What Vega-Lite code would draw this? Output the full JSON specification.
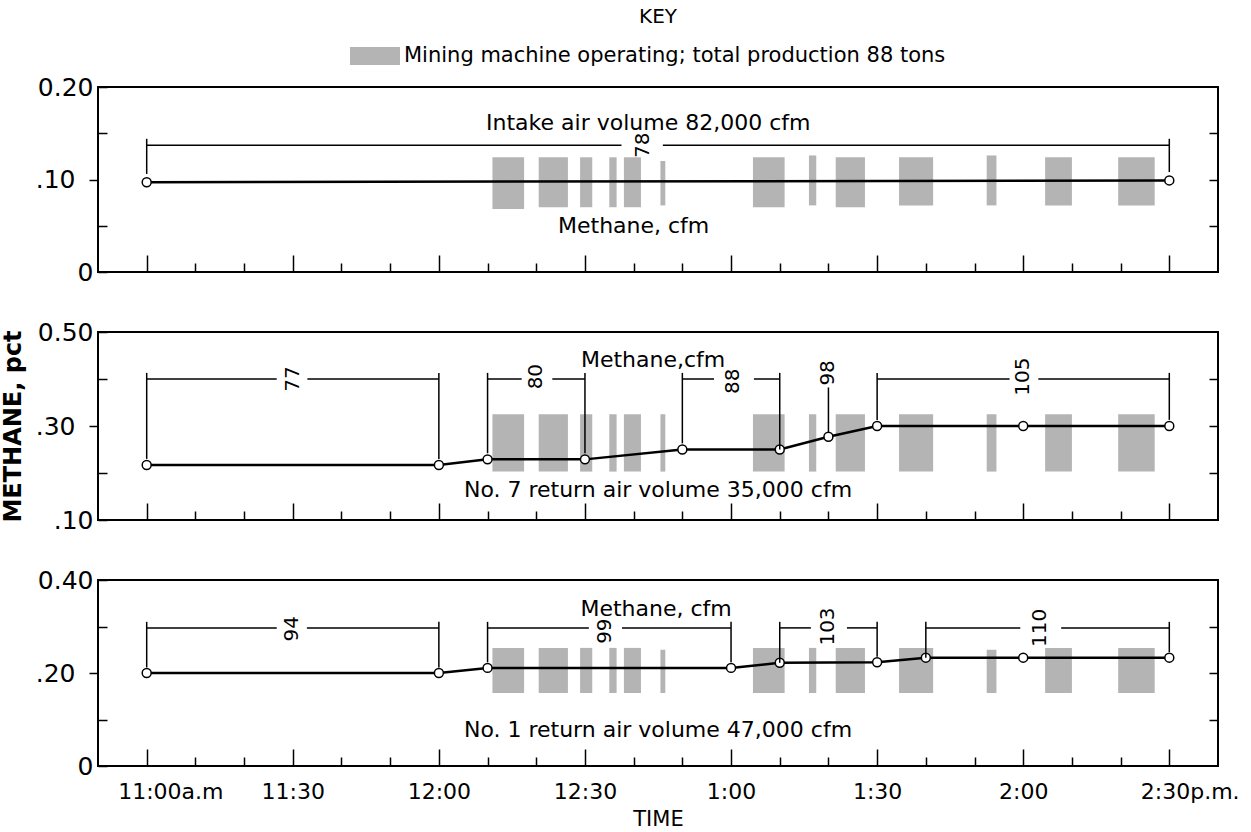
{
  "$schema": "https://vega.github.io/schema/vega-lite/v6.json",
  "background": "white",
  "padding": {"left": 0, "top": 6, "right": 10, "bottom": 0},
  "spacing": 33,
  "config": {
    "view": {"stroke": "black", "strokeWidth": 2},
    "axis": {"domain": false, "grid": false, "tickColor": "black", "tickWidth": 1.5, "labelColor": "black", "labelFont": "DejaVu Sans", "labelFontSize": 25, "titleFont": "DejaVu Sans", "titleColor": "black"},
    "text": {"font": "DejaVu Sans", "color": "black"}
  },
  "datasets": {
    "bars": [
      {"panel": 1, "x": 71, "x2": 77.5, "y": 0.068, "y2": 0.124},
      {"panel": 1, "x": 80.5, "x2": 86.5, "y": 0.07, "y2": 0.124},
      {"panel": 1, "x": 89, "x2": 91.5, "y": 0.07, "y2": 0.124},
      {"panel": 1, "x": 95, "x2": 96.5, "y": 0.07, "y2": 0.124},
      {"panel": 1, "x": 98, "x2": 101.5, "y": 0.07, "y2": 0.124},
      {"panel": 1, "x": 105.5, "x2": 106.5, "y": 0.072, "y2": 0.12},
      {"panel": 1, "x": 124.5, "x2": 131, "y": 0.07, "y2": 0.124},
      {"panel": 1, "x": 136, "x2": 137.5, "y": 0.072, "y2": 0.126},
      {"panel": 1, "x": 141.5, "x2": 147.5, "y": 0.07, "y2": 0.124},
      {"panel": 1, "x": 154.5, "x2": 161.5, "y": 0.072, "y2": 0.124},
      {"panel": 1, "x": 172.5, "x2": 174.5, "y": 0.072, "y2": 0.126},
      {"panel": 1, "x": 184.5, "x2": 190, "y": 0.072, "y2": 0.124},
      {"panel": 1, "x": 199.5, "x2": 207, "y": 0.072, "y2": 0.124},
      {"panel": 2, "x": 71, "x2": 77.5, "y": 0.203, "y2": 0.325},
      {"panel": 2, "x": 80.5, "x2": 86.5, "y": 0.203, "y2": 0.325},
      {"panel": 2, "x": 89, "x2": 91.5, "y": 0.203, "y2": 0.325},
      {"panel": 2, "x": 95, "x2": 96.5, "y": 0.203, "y2": 0.325},
      {"panel": 2, "x": 98, "x2": 101.5, "y": 0.203, "y2": 0.325},
      {"panel": 2, "x": 105.5, "x2": 106.5, "y": 0.203, "y2": 0.325},
      {"panel": 2, "x": 124.5, "x2": 131, "y": 0.203, "y2": 0.325},
      {"panel": 2, "x": 136, "x2": 137.5, "y": 0.203, "y2": 0.325},
      {"panel": 2, "x": 141.5, "x2": 147.5, "y": 0.203, "y2": 0.325},
      {"panel": 2, "x": 154.5, "x2": 161.5, "y": 0.203, "y2": 0.325},
      {"panel": 2, "x": 172.5, "x2": 174.5, "y": 0.203, "y2": 0.325},
      {"panel": 2, "x": 184.5, "x2": 190, "y": 0.203, "y2": 0.325},
      {"panel": 2, "x": 199.5, "x2": 207, "y": 0.203, "y2": 0.325},
      {"panel": 3, "x": 71, "x2": 77.5, "y": 0.157, "y2": 0.254},
      {"panel": 3, "x": 80.5, "x2": 86.5, "y": 0.157, "y2": 0.254},
      {"panel": 3, "x": 89, "x2": 91.5, "y": 0.157, "y2": 0.254},
      {"panel": 3, "x": 95, "x2": 96.5, "y": 0.157, "y2": 0.254},
      {"panel": 3, "x": 98, "x2": 101.5, "y": 0.157, "y2": 0.254},
      {"panel": 3, "x": 105.5, "x2": 106.5, "y": 0.157, "y2": 0.25},
      {"panel": 3, "x": 124.5, "x2": 131, "y": 0.157, "y2": 0.254},
      {"panel": 3, "x": 136, "x2": 137.5, "y": 0.157, "y2": 0.254},
      {"panel": 3, "x": 141.5, "x2": 147.5, "y": 0.157, "y2": 0.254},
      {"panel": 3, "x": 154.5, "x2": 161.5, "y": 0.157, "y2": 0.254},
      {"panel": 3, "x": 172.5, "x2": 174.5, "y": 0.157, "y2": 0.25},
      {"panel": 3, "x": 184.5, "x2": 190, "y": 0.157, "y2": 0.254},
      {"panel": 3, "x": 199.5, "x2": 207, "y": 0.157, "y2": 0.254}
    ],
    "lines": [
      {"panel": 1, "x": 0, "y": 0.097},
      {"panel": 1, "x": 210, "y": 0.099},
      {"panel": 2, "x": 0, "y": 0.217},
      {"panel": 2, "x": 60, "y": 0.217},
      {"panel": 2, "x": 70, "y": 0.229},
      {"panel": 2, "x": 90, "y": 0.229},
      {"panel": 2, "x": 110, "y": 0.25},
      {"panel": 2, "x": 130, "y": 0.25},
      {"panel": 2, "x": 140, "y": 0.277},
      {"panel": 2, "x": 150, "y": 0.30},
      {"panel": 2, "x": 180, "y": 0.30},
      {"panel": 2, "x": 210, "y": 0.30},
      {"panel": 3, "x": 0, "y": 0.20},
      {"panel": 3, "x": 60, "y": 0.20},
      {"panel": 3, "x": 70, "y": 0.211},
      {"panel": 3, "x": 120, "y": 0.211},
      {"panel": 3, "x": 130, "y": 0.222},
      {"panel": 3, "x": 150, "y": 0.223},
      {"panel": 3, "x": 160, "y": 0.233},
      {"panel": 3, "x": 180, "y": 0.233},
      {"panel": 3, "x": 210, "y": 0.233}
    ],
    "hsegs": [
      {"panel": 1, "x": 0, "x2": 97.5, "y": 0.137},
      {"panel": 1, "x": 106, "x2": 210, "y": 0.137},
      {"panel": 2, "x": 0, "x2": 26.7, "y": 0.40},
      {"panel": 2, "x": 33, "x2": 60, "y": 0.40},
      {"panel": 2, "x": 70, "x2": 77, "y": 0.40},
      {"panel": 2, "x": 83.3, "x2": 90, "y": 0.40},
      {"panel": 2, "x": 110, "x2": 116.5, "y": 0.40},
      {"panel": 2, "x": 124.7, "x2": 130, "y": 0.40},
      {"panel": 2, "x": 150, "x2": 177.2, "y": 0.40},
      {"panel": 2, "x": 183.1, "x2": 210, "y": 0.40},
      {"panel": 3, "x": 0, "x2": 26.7, "y": 0.297},
      {"panel": 3, "x": 32.9, "x2": 60, "y": 0.297},
      {"panel": 3, "x": 70, "x2": 90.8, "y": 0.297},
      {"panel": 3, "x": 97.6, "x2": 120, "y": 0.297},
      {"panel": 3, "x": 130, "x2": 136.4, "y": 0.297},
      {"panel": 3, "x": 143.8, "x2": 150, "y": 0.297},
      {"panel": 3, "x": 160, "x2": 179.4, "y": 0.297},
      {"panel": 3, "x": 187.8, "x2": 210, "y": 0.297}
    ],
    "vsegs": [
      {"panel": 1, "x": 0, "y": 0.144, "y2": 0.106},
      {"panel": 1, "x": 210, "y": 0.144, "y2": 0.108},
      {"panel": 2, "x": 0, "y": 0.413, "y2": 0.23},
      {"panel": 2, "x": 60, "y": 0.413, "y2": 0.23},
      {"panel": 2, "x": 70, "y": 0.413, "y2": 0.242},
      {"panel": 2, "x": 90, "y": 0.413, "y2": 0.242},
      {"panel": 2, "x": 110, "y": 0.413, "y2": 0.263},
      {"panel": 2, "x": 130, "y": 0.413, "y2": 0.25},
      {"panel": 2, "x": 140, "y": 0.382, "y2": 0.287},
      {"panel": 2, "x": 150, "y": 0.413, "y2": 0.313},
      {"panel": 2, "x": 210, "y": 0.413, "y2": 0.313},
      {"panel": 3, "x": 0, "y": 0.31, "y2": 0.212},
      {"panel": 3, "x": 60, "y": 0.31, "y2": 0.212},
      {"panel": 3, "x": 70, "y": 0.31, "y2": 0.223},
      {"panel": 3, "x": 120, "y": 0.31, "y2": 0.223},
      {"panel": 3, "x": 130, "y": 0.31, "y2": 0.222},
      {"panel": 3, "x": 150, "y": 0.31, "y2": 0.235},
      {"panel": 3, "x": 160, "y": 0.31, "y2": 0.233},
      {"panel": 3, "x": 210, "y": 0.31, "y2": 0.245}
    ],
    "blabels": [
      {"panel": 1, "x": 102, "y": 0.137, "label": "78"},
      {"panel": 2, "x": 30, "y": 0.40, "label": "77"},
      {"panel": 2, "x": 80, "y": 0.405, "label": "80"},
      {"panel": 2, "x": 120.5, "y": 0.395, "label": "88"},
      {"panel": 2, "x": 140, "y": 0.413, "label": "98"},
      {"panel": 2, "x": 180, "y": 0.405, "label": "105"},
      {"panel": 3, "x": 29.8, "y": 0.295, "label": "94"},
      {"panel": 3, "x": 94.2, "y": 0.29, "label": "99"},
      {"panel": 3, "x": 140, "y": 0.30, "label": "103"},
      {"panel": 3, "x": 183.5, "y": 0.297, "label": "110"}
    ],
    "texts": [
      {"panel": 1, "x": 103, "y": 0.161, "text": "Intake air volume  82,000 cfm"},
      {"panel": 1, "x": 100, "y": 0.05, "text": "Methane, cfm"},
      {"panel": 2, "x": 104, "y": 0.44, "text": "Methane,cfm"},
      {"panel": 2, "x": 105, "y": 0.163, "text": "No. 7 return air volume 35,000 cfm"},
      {"panel": 3, "x": 104.6, "y": 0.338, "text": "Methane, cfm"},
      {"panel": 3, "x": 105, "y": 0.078, "text": "No. 1 return air volume 47,000 cfm"}
    ]
  },
  "vconcat": [
    {
      "width": 1120,
      "height": 185,
      "title": {"text": "KEY", "font": "DejaVu Sans", "fontSize": 20, "fontWeight": "normal", "offset": 48, "anchor": "middle", "color": "black"},
      "encoding": {
        "x": {"field": "x", "type": "quantitative", "scale": {"domain": [-10, 220], "nice": false, "zero": false},
          "axis": {"values": [0, 10, 20, 30, 40, 50, 60, 70, 80, 90, 100, 110, 120, 130, 140, 150, 160, 170, 180, 190, 200, 210], "labels": false, "title": null,
            "tickSize": {"condition": {"test": "datum.value % 30 === 0", "value": -17}, "value": -9}}}
      },
      "layer": [
        {
          "data": {"name": "bars"}, "transform": [{"filter": "datum.panel === 1"}],
          "mark": {"type": "rect"},
          "encoding": {
            "x2": {"field": "x2"},
            "y": {"field": "y", "type": "quantitative", "scale": {"domain": [0, 0.2], "nice": false, "zero": false},
              "axis": {"orient": "left", "title": null, "values": [0, 0.05, 0.1, 0.15, 0.2], "labelPadding": 14,
                "labelExpr": "datum.value === 0.2 ? '0.20' : datum.value === 0.1 ? '.10' : datum.value === 0 ? '0' : ''",
                "tickSize": {"condition": {"test": "datum.value === 0.1", "value": 9}, "value": -9}}},
            "y2": {"field": "y2"},
            "color": {"datum": "Mining machine operating; total production 88 tons", "type": "nominal", "scale": {"range": ["#b4b4b4"]},
              "legend": {"orient": "none", "legendX": 252, "legendY": -56, "title": null, "symbolType": "M-1,-0.36H1V0.36H-1Z", "symbolSize": 2500, "symbolStrokeWidth": 0, "labelFont": "DejaVu Sans", "labelFontSize": 21, "labelColor": "black", "labelLimit": 900, "padding": 0}}
          }
        },
        {
          "data": {"name": "lines"}, "transform": [{"filter": "datum.panel === 1"}],
          "mark": {"type": "line", "color": "black", "strokeWidth": 2.5, "point": {"filled": true, "fill": "white", "stroke": "black", "strokeWidth": 1.5, "size": 80}},
          "encoding": {
            "y": {"field": "y", "type": "quantitative", "scale": {"domain": [0, 0.2], "nice": false, "zero": false},
              "axis": {"orient": "right", "title": null, "values": [0.05, 0.1, 0.15], "labels": false, "tickSize": -9}}
          }
        },
        {
          "data": {"name": "hsegs"}, "transform": [{"filter": "datum.panel === 1"}],
          "mark": {"type": "rule", "color": "black", "strokeWidth": 1.5},
          "encoding": {"x2": {"field": "x2"}, "y": {"field": "y", "type": "quantitative", "scale": {"domain": [0, 0.2], "nice": false, "zero": false}, "axis": null}}
        },
        {
          "data": {"name": "vsegs"}, "transform": [{"filter": "datum.panel === 1"}],
          "mark": {"type": "rule", "color": "black", "strokeWidth": 1.5},
          "encoding": {"y": {"field": "y", "type": "quantitative", "scale": {"domain": [0, 0.2], "nice": false, "zero": false}, "axis": null}, "y2": {"field": "y2"}}
        },
        {
          "data": {"name": "blabels"}, "transform": [{"filter": "datum.panel === 1"}],
          "mark": {"type": "text", "angle": 270, "fontSize": 20, "align": "center", "baseline": "middle"},
          "encoding": {"y": {"field": "y", "type": "quantitative", "scale": {"domain": [0, 0.2], "nice": false, "zero": false}, "axis": null}, "text": {"field": "label"}}
        },
        {
          "data": {"name": "texts"}, "transform": [{"filter": "datum.panel === 1"}],
          "mark": {"type": "text", "fontSize": 22, "align": "center", "baseline": "middle"},
          "encoding": {"y": {"field": "y", "type": "quantitative", "scale": {"domain": [0, 0.2], "nice": false, "zero": false}, "axis": null}, "text": {"field": "text"}}
        }
      ],
      "resolve": {"axis": {"y": "independent"}}
    },
    {
      "width": 1120,
      "height": 188,
      "encoding": {
        "x": {"field": "x", "type": "quantitative", "scale": {"domain": [-10, 220], "nice": false, "zero": false},
          "axis": {"values": [0, 10, 20, 30, 40, 50, 60, 70, 80, 90, 100, 110, 120, 130, 140, 150, 160, 170, 180, 190, 200, 210], "labels": false, "title": null,
            "tickSize": {"condition": {"test": "datum.value % 30 === 0", "value": -17}, "value": -9}}}
      },
      "layer": [
        {
          "data": {"name": "bars"}, "transform": [{"filter": "datum.panel === 2"}],
          "mark": {"type": "rect", "fill": "#b4b4b4"},
          "encoding": {
            "x2": {"field": "x2"},
            "y": {"field": "y", "type": "quantitative", "scale": {"domain": [0.1, 0.5], "nice": false, "zero": false},
              "axis": {"orient": "left", "title": "METHANE, pct", "titleFontSize": 24, "titleFontWeight": "bold", "titlePadding": 10, "values": [0.1, 0.2, 0.3, 0.4, 0.5], "labelPadding": 14,
                "labelExpr": "datum.value === 0.5 ? '0.50' : datum.value === 0.3 ? '.30' : datum.value === 0.1 ? '.10' : ''",
                "tickSize": {"condition": {"test": "datum.value === 0.3", "value": 9}, "value": -9}}},
            "y2": {"field": "y2"}
          }
        },
        {
          "data": {"name": "lines"}, "transform": [{"filter": "datum.panel === 2"}],
          "mark": {"type": "line", "color": "black", "strokeWidth": 2.5, "point": {"filled": true, "fill": "white", "stroke": "black", "strokeWidth": 1.5, "size": 80}},
          "encoding": {
            "y": {"field": "y", "type": "quantitative", "scale": {"domain": [0.1, 0.5], "nice": false, "zero": false},
              "axis": {"orient": "right", "title": null, "values": [0.2, 0.3, 0.4], "labels": false, "tickSize": -9}}
          }
        },
        {
          "data": {"name": "hsegs"}, "transform": [{"filter": "datum.panel === 2"}],
          "mark": {"type": "rule", "color": "black", "strokeWidth": 1.5},
          "encoding": {"x2": {"field": "x2"}, "y": {"field": "y", "type": "quantitative", "scale": {"domain": [0.1, 0.5], "nice": false, "zero": false}, "axis": null}}
        },
        {
          "data": {"name": "vsegs"}, "transform": [{"filter": "datum.panel === 2"}],
          "mark": {"type": "rule", "color": "black", "strokeWidth": 1.5},
          "encoding": {"y": {"field": "y", "type": "quantitative", "scale": {"domain": [0.1, 0.5], "nice": false, "zero": false}, "axis": null}, "y2": {"field": "y2"}}
        },
        {
          "data": {"name": "blabels"}, "transform": [{"filter": "datum.panel === 2"}],
          "mark": {"type": "text", "angle": 270, "fontSize": 20, "align": "center", "baseline": "middle"},
          "encoding": {"y": {"field": "y", "type": "quantitative", "scale": {"domain": [0.1, 0.5], "nice": false, "zero": false}, "axis": null}, "text": {"field": "label"}}
        },
        {
          "data": {"name": "texts"}, "transform": [{"filter": "datum.panel === 2"}],
          "mark": {"type": "text", "fontSize": 22, "align": "center", "baseline": "middle"},
          "encoding": {"y": {"field": "y", "type": "quantitative", "scale": {"domain": [0.1, 0.5], "nice": false, "zero": false}, "axis": null}, "text": {"field": "text"}}
        }
      ],
      "resolve": {"axis": {"y": "independent"}}
    },
    {
      "width": 1120,
      "height": 186,
      "encoding": {
        "x": {"field": "x", "type": "quantitative", "scale": {"domain": [-10, 220], "nice": false, "zero": false},
          "axis": {"values": [0, 10, 20, 30, 40, 50, 60, 70, 80, 90, 100, 110, 120, 130, 140, 150, 160, 170, 180, 190, 200, 210], "title": "TIME", "titleFontSize": 21, "titleFontWeight": "normal", "titlePadding": 6, "labelPadding": 32, "labelFontSize": 22,
            "labelExpr": "datum.value === 0 ? '11:00a.m' : datum.value === 30 ? '11:30' : datum.value === 60 ? '12:00' : datum.value === 90 ? '12:30' : datum.value === 120 ? '1:00' : datum.value === 150 ? '1:30' : datum.value === 180 ? '2:00' : datum.value === 210 ? '2:30p.m.' : ''",
            "labelAlign": {"condition": {"test": "datum.value === 0 || datum.value === 210", "value": "left"}, "value": "center"},
            "labelOffset": {"condition": {"test": "datum.value === 0 || datum.value === 210", "value": -29}, "value": 0},
            "tickSize": {"condition": {"test": "datum.value % 30 === 0", "value": -17}, "value": -9}}}
      },
      "layer": [
        {
          "data": {"name": "bars"}, "transform": [{"filter": "datum.panel === 3"}],
          "mark": {"type": "rect", "fill": "#b4b4b4"},
          "encoding": {
            "x2": {"field": "x2"},
            "y": {"field": "y", "type": "quantitative", "scale": {"domain": [0, 0.4], "nice": false, "zero": false},
              "axis": {"orient": "left", "title": null, "values": [0, 0.1, 0.2, 0.3, 0.4], "labelPadding": 14,
                "labelExpr": "datum.value === 0.4 ? '0.40' : datum.value === 0.2 ? '.20' : datum.value === 0 ? '0' : ''",
                "tickSize": {"condition": {"test": "datum.value === 0.2", "value": 9}, "value": -9}}},
            "y2": {"field": "y2"}
          }
        },
        {
          "data": {"name": "lines"}, "transform": [{"filter": "datum.panel === 3"}],
          "mark": {"type": "line", "color": "black", "strokeWidth": 2.5, "point": {"filled": true, "fill": "white", "stroke": "black", "strokeWidth": 1.5, "size": 80}},
          "encoding": {
            "y": {"field": "y", "type": "quantitative", "scale": {"domain": [0, 0.4], "nice": false, "zero": false},
              "axis": {"orient": "right", "title": null, "values": [0.1, 0.2, 0.3], "labels": false, "tickSize": -9}}
          }
        },
        {
          "data": {"name": "hsegs"}, "transform": [{"filter": "datum.panel === 3"}],
          "mark": {"type": "rule", "color": "black", "strokeWidth": 1.5},
          "encoding": {"x2": {"field": "x2"}, "y": {"field": "y", "type": "quantitative", "scale": {"domain": [0, 0.4], "nice": false, "zero": false}, "axis": null}}
        },
        {
          "data": {"name": "vsegs"}, "transform": [{"filter": "datum.panel === 3"}],
          "mark": {"type": "rule", "color": "black", "strokeWidth": 1.5},
          "encoding": {"y": {"field": "y", "type": "quantitative", "scale": {"domain": [0, 0.4], "nice": false, "zero": false}, "axis": null}, "y2": {"field": "y2"}}
        },
        {
          "data": {"name": "blabels"}, "transform": [{"filter": "datum.panel === 3"}],
          "mark": {"type": "text", "angle": 270, "fontSize": 20, "align": "center", "baseline": "middle"},
          "encoding": {"y": {"field": "y", "type": "quantitative", "scale": {"domain": [0, 0.4], "nice": false, "zero": false}, "axis": null}, "text": {"field": "label"}}
        },
        {
          "data": {"name": "texts"}, "transform": [{"filter": "datum.panel === 3"}],
          "mark": {"type": "text", "fontSize": 22, "align": "center", "baseline": "middle"},
          "encoding": {"y": {"field": "y", "type": "quantitative", "scale": {"domain": [0, 0.4], "nice": false, "zero": false}, "axis": null}, "text": {"field": "text"}}
        }
      ],
      "resolve": {"axis": {"y": "independent"}}
    }
  ]
}
